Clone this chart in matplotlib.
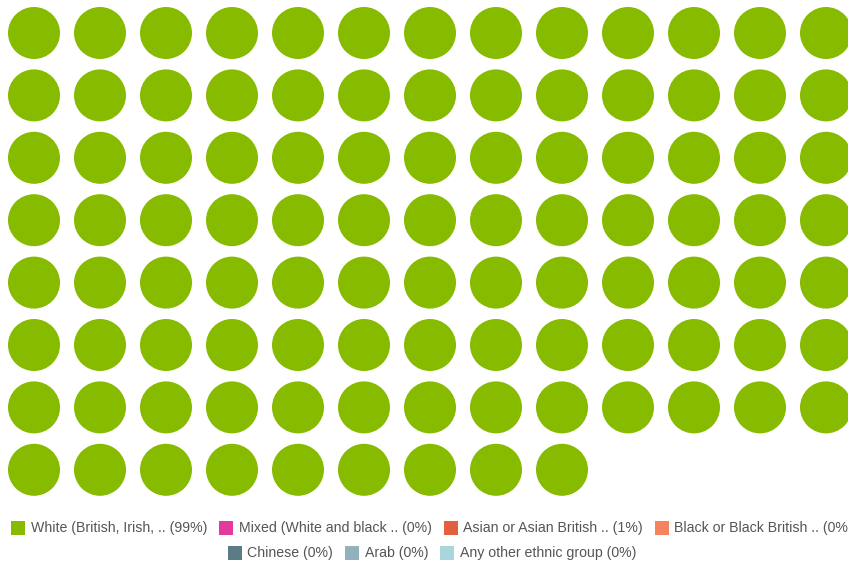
import matplotlib
matplotlib.use("Agg")
import matplotlib.pyplot as plt
from matplotlib.patches import Circle, Rectangle

categories = ["White (British, Irish, ..", "Mixed (White and black ..",
              "Asian or Asian British ..", "Black or Black British ..",
              "Chinese", "Arab", "Any other ethnic group"]
percents = [99, 0, 1, 0, 0, 0, 0]
dot_counts = [100, 0, 0, 0, 0, 0, 0]
colors = ["#86bb00", "#e33b9b", "#e2603f", "#f6825f", "#5b7b86", "#93b1bd", "#a9d5dc"]
legend_rows = [[0, 1, 2, 3], [4, 5, 6]]

W, H = 848, 565
fig = plt.figure(figsize=(W / 100, H / 100), dpi=100)
ax = fig.add_axes([0, 0, 1, 1])
ax.set_xlim(0, W)
ax.set_ylim(H, 0)
ax.set_aspect("equal")
ax.axis("off")

ncols = 13
x0, y0 = 34, 33
dx, dy = 66.0, 62.4
r = 26
idx = 0
for ci, n in enumerate(dot_counts):
    for _ in range(n):
        row, col = divmod(idx, ncols)
        ax.add_patch(Circle((x0 + col * dx, y0 + row * dy), r, color=colors[ci], lw=0))
        idx += 1

# legend
fig.canvas.draw()
renderer = fig.canvas.get_renderer()
fs = 10.2
sq = 14
gap_sq = 5.5
gap_item = 12
row_y = [528, 553]
center_x = 432
for ri, items in enumerate(legend_rows):
    texts = []
    widths = []
    for i in items:
        label = f"{categories[i]} ({percents[i]}%)"
        t = ax.text(0, row_y[ri], label, fontsize=fs, family="Liberation Sans",
                    color="#555555", va="center", ha="left")
        bb = t.get_window_extent(renderer)
        texts.append(t)
        widths.append(bb.width)
    total = sum(sq + gap_sq + w for w in widths) + gap_item * (len(items) - 1)
    x = center_x - total / 2
    for t, w, i in zip(texts, widths, items):
        ax.add_patch(Rectangle((x, row_y[ri] - sq / 2), sq, sq, color=colors[i], lw=0))
        t.set_x(x + sq + gap_sq)
        x += sq + gap_sq + w + gap_item

fig.savefig("out.png", dpi=100)
